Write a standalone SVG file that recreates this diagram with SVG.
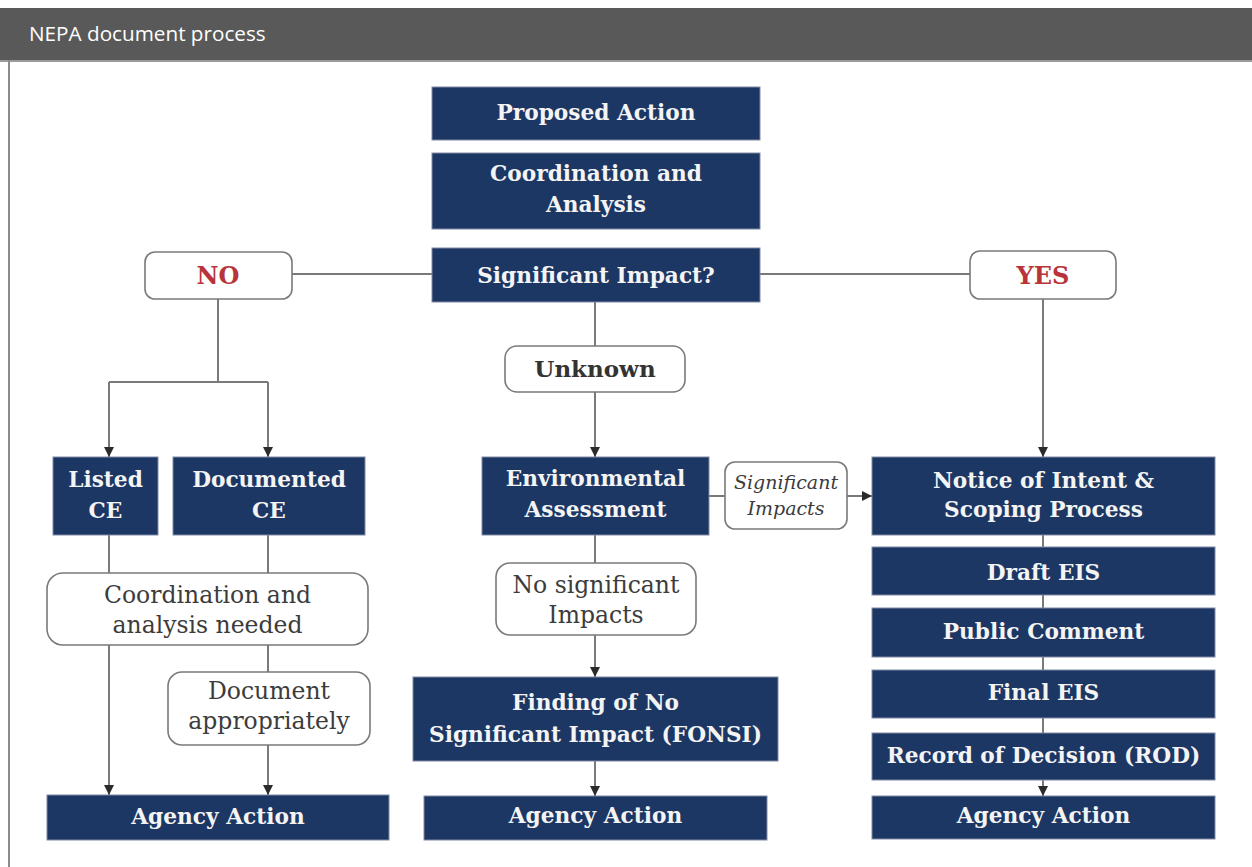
<svg xmlns="http://www.w3.org/2000/svg" width="1252" height="867" viewBox="0 0 1252 867">
<defs>
<marker id="ah" markerUnits="userSpaceOnUse" markerWidth="12" markerHeight="10" refX="10" refY="5" orient="auto">
<path d="M0,0 L10,5 L0,10 Z" fill="#2b2b2b"/>
</marker>
<style>
.nv{fill:#1c3764;stroke:#7f8aa3;stroke-width:1}
.lt{fill:#ffffff;stroke:#7a7a7a;stroke-width:1.6}
.tn{font-family:"DejaVu Serif","Liberation Serif",serif;font-weight:bold;font-size:21.7px;fill:#f4f4f4;text-anchor:middle}
.tl{font-family:"DejaVu Serif","Liberation Serif",serif;font-size:23.5px;fill:#3c3c3c;text-anchor:middle}
.tr{font-family:"DejaVu Serif","Liberation Serif",serif;font-weight:bold;font-size:24px;fill:#b8343a;text-anchor:middle}
.ti{font-family:"DejaVu Serif","Liberation Serif",serif;font-style:italic;font-size:19px;fill:#3c3c3c;text-anchor:middle}
.tu{font-family:"DejaVu Serif","Liberation Serif",serif;font-weight:bold;font-size:23px;fill:#333333;text-anchor:middle}
.ln{fill:none;stroke:#7a7a7a;stroke-width:2}
.ar{fill:none;stroke:#7a7a7a;stroke-width:2;marker-end:url(#ah)}
</style>
</defs>
<rect width="1252" height="867" fill="#ffffff"/>
<g id="header">
<rect x="0" y="8" width="1252" height="52" fill="#595959"/>
<rect x="0" y="60" width="1252" height="2" fill="#9a9a9a"/>
<rect x="8" y="60" width="2" height="807" fill="#8c8c8c"/>
<text x="29" y="41" font-family="'Open Sans','Liberation Sans',sans-serif" font-size="20.7" fill="#ffffff">NEPA document process</text>
</g>
<g id="connectors">
<path class="ln" d="M292,274 H432"/>
<path class="ln" d="M760,274 H970"/>
<path class="ln" d="M218,299 V382 M109,382 H268"/>
<path class="ar" d="M109,382 V457"/>
<path class="ar" d="M268,382 V457"/>
<path class="ln" d="M109,535 V573"/>
<path class="ar" d="M109,645 V795"/>
<path class="ln" d="M268,535 V573 M268,645 V672"/>
<path class="ar" d="M268,745 V795"/>
<path class="ln" d="M595,302 V346"/>
<path class="ar" d="M595,392 V457"/>
<path class="ln" d="M595,535 V563"/>
<path class="ar" d="M595,635 V677"/>
<path class="ar" d="M595,761 V796"/>
<path class="ln" d="M709,496 H725"/>
<path class="ar" d="M847,496 H872"/>
<path class="ar" d="M1043,299 V457"/>
<path class="ln" d="M1043,535 V547 M1043,595 V608 M1043,657 V670 M1043,718 V733"/>
<path class="ar" d="M1043,780 V796"/>
</g>
<g id="proposed-action"><rect class="nv" x="432" y="87" width="328" height="53"/><text class="tn" x="596" y="120">Proposed Action</text></g>
<g id="coordination-analysis"><rect class="nv" x="432" y="153" width="328" height="76"/><text class="tn" x="596" y="181">Coordination and</text><text class="tn" x="596" y="212">Analysis</text></g>
<g id="significant-impact"><rect class="nv" x="432" y="248" width="328" height="54"/><text class="tn" x="596" y="283">Significant Impact?</text></g>
<g id="no"><rect class="lt" x="145" y="252" width="147" height="47" rx="10"/><text class="tr" x="218" y="284">NO</text></g>
<g id="yes"><rect class="lt" x="970" y="251" width="146" height="48" rx="10"/><text class="tr" x="1043" y="284">YES</text></g>
<g id="unknown"><rect class="lt" x="505" y="346" width="180" height="46" rx="12"/><text class="tu" x="595" y="377">Unknown</text></g>
<g id="listed-ce"><rect class="nv" x="53" y="457" width="105" height="78"/><text class="tn" x="105.5" y="487">Listed</text><text class="tn" x="105.5" y="518">CE</text></g>
<g id="documented-ce"><rect class="nv" x="173" y="457" width="192" height="78"/><text class="tn" x="269" y="487">Documented</text><text class="tn" x="269" y="518">CE</text></g>
<g id="environmental-assessment"><rect class="nv" x="482" y="457" width="227" height="78"/><text class="tn" x="595.5" y="486">Environmental</text><text class="tn" x="595.5" y="517">Assessment</text></g>
<g id="significant-impacts"><rect class="lt" x="725" y="462" width="122" height="67" rx="10"/><text class="ti" x="786" y="489">Significant</text><text class="ti" x="786" y="515">Impacts</text></g>
<g id="notice-of-intent"><rect class="nv" x="872" y="457" width="343" height="78"/><text class="tn" x="1043.5" y="488">Notice of Intent &amp;</text><text class="tn" x="1043.5" y="517">Scoping Process</text></g>
<g id="coordination-needed"><rect class="lt" x="47" y="573" width="321" height="72" rx="16"/><text class="tl" x="207.5" y="603">Coordination and</text><text class="tl" x="207.5" y="633">analysis needed</text></g>
<g id="no-significant-impacts"><rect class="lt" x="496" y="563" width="200" height="72" rx="14"/><text class="tl" x="596" y="593">No significant</text><text class="tl" x="596" y="623">Impacts</text></g>
<g id="document-appropriately"><rect class="lt" x="168" y="672" width="202" height="73" rx="14"/><text class="tl" x="269" y="699">Document</text><text class="tl" x="269" y="729">appropriately</text></g>
<g id="draft-eis"><rect class="nv" x="872" y="547" width="343" height="48"/><text class="tn" x="1043.5" y="580">Draft EIS</text></g>
<g id="public-comment"><rect class="nv" x="872" y="608" width="343" height="49"/><text class="tn" x="1043.5" y="639">Public Comment</text></g>
<g id="final-eis"><rect class="nv" x="872" y="670" width="343" height="48"/><text class="tn" x="1043.5" y="700">Final EIS</text></g>
<g id="record-of-decision"><rect class="nv" x="872" y="733" width="343" height="47"/><text class="tn" x="1043.5" y="763">Record of Decision (ROD)</text></g>
<g id="fonsi"><rect class="nv" x="413" y="677" width="365" height="84"/><text class="tn" x="595.5" y="710">Finding of No</text><text class="tn" x="595.5" y="742">Significant Impact (FONSI)</text></g>
<g id="agency-action-left"><rect class="nv" x="47" y="795" width="342" height="45"/><text class="tn" x="218" y="824">Agency Action</text></g>
<g id="agency-action-center"><rect class="nv" x="424" y="796" width="343" height="44"/><text class="tn" x="595.5" y="823">Agency Action</text></g>
<g id="agency-action-right"><rect class="nv" x="872" y="796" width="343" height="43"/><text class="tn" x="1043.5" y="823">Agency Action</text></g>
</svg>
